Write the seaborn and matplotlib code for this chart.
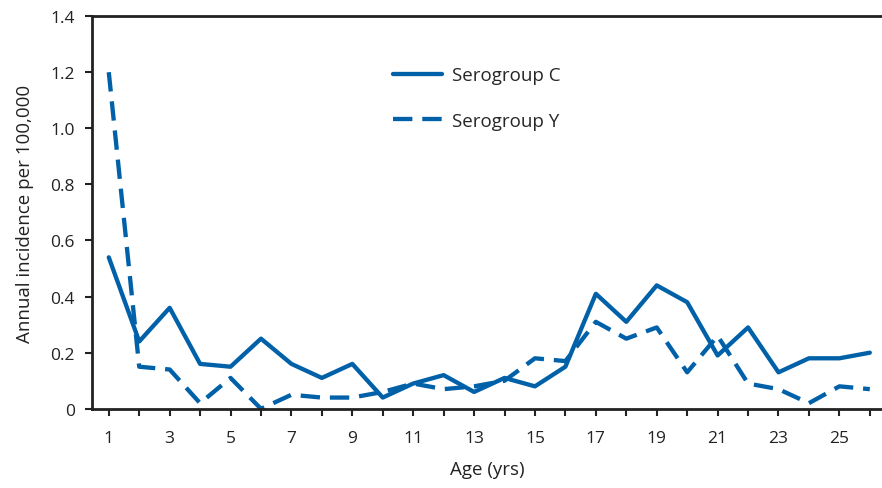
import numpy as np
import pandas as pd
import matplotlib
matplotlib.use("Agg")
import matplotlib.pyplot as plt
import seaborn as sns

# values
ages = list(range(1, 27))
serogroup_c = [0.54, 0.24, 0.36, 0.16, 0.15, 0.25, 0.16, 0.11, 0.16, 0.04,
               0.09, 0.12, 0.06, 0.11, 0.08, 0.15, 0.41, 0.31, 0.44, 0.38,
               0.19, 0.29, 0.13, 0.18, 0.18, 0.20]
serogroup_y = [1.20, 0.15, 0.14, 0.02, 0.11, 0.00, 0.05, 0.04, 0.04, 0.06,
               0.09, 0.07, 0.08, 0.10, 0.18, 0.17, 0.31, 0.25, 0.29, 0.13,
               0.26, 0.09, 0.07, 0.02, 0.08, 0.07]
y_ticks = [0, 0.2, 0.4, 0.6, 0.8, 1.0, 1.2, 1.4]
y_tick_labels = ["0", "0.2", "0.4", "0.6", "0.8", "1.0", "1.2", "1.4"]

df = pd.DataFrame({
    "Age": ages * 2,
    "Incidence": serogroup_c + serogroup_y,
    "Group": ["Serogroup C"] * len(ages) + ["Serogroup Y"] * len(ages),
})

sns.set_style("ticks")
plt.rcParams["font.family"] = ["Open Sans", "DejaVu Sans"]

blue = "#0061a9"
dark = "#222222"
fig = plt.figure(figsize=(8.82, 4.89), dpi=100)
ax = fig.add_axes([0.104, 0.162, 0.896, 0.803])

sns.lineplot(data=df, x="Age", y="Incidence", hue="Group", style="Group",
             palette=[blue, blue], dashes=[(None, None), (4.5, 2.3)],
             linewidth=3.1, ax=ax)

ax.set_xlim(0.44, 26.4)
ax.set_ylim(0, 1.4)
ax.set_xticks(ages)
ax.set_xticklabels([str(a) if a % 2 == 1 else "" for a in ages])
ax.set_yticks(y_ticks)
ax.set_yticklabels(y_tick_labels)
ax.tick_params(axis="both", labelsize=12.5, colors=dark, width=1.5,
               length=5, direction="out")
ax.tick_params(axis="x", pad=10)
ax.tick_params(axis="y", pad=7)

for s in ["left", "top", "bottom"]:
    ax.spines[s].set_linewidth(2)
    ax.spines[s].set_color(dark)
ax.spines["right"].set_visible(False)

ax.set_xlabel("Age (yrs)", fontsize=13.5, color=dark, labelpad=10)
ax.set_ylabel("Annual incidence per 100,000", fontsize=13.5, color=dark,
              labelpad=12)

leg = ax.legend(loc="upper left", bbox_to_anchor=(0.36, 0.915), frameon=False,
                fontsize=13.5, handlelength=2.6, labelspacing=1.45,
                handletextpad=0.55)
for line in leg.get_lines():
    line.set_linewidth(3.1)

fig.savefig("out.png", dpi=100)
